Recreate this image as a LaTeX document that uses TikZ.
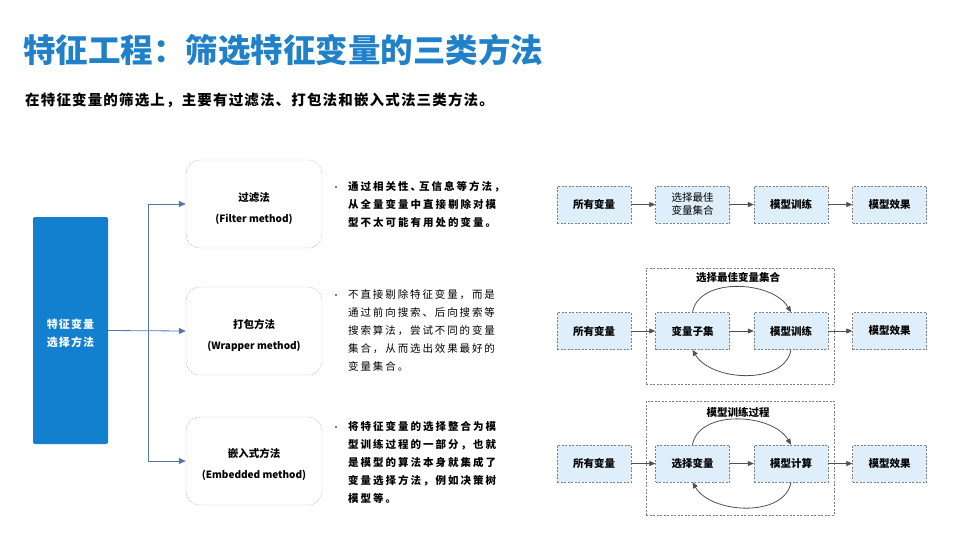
\documentclass[tikz,border=0pt]{standalone}
\usepackage{fontspec}
\setmainfont{Noto Sans CJK SC}
\usetikzlibrary{arrows.meta,positioning}
\definecolor{TitleBlue}{RGB}{32,128,200}
\definecolor{SelBlue}{RGB}{18,128,206}
\definecolor{LinkBlue}{RGB}{82,120,168}
\definecolor{DotGray}{RGB}{150,165,185}
\definecolor{FlowFill}{RGB}{222,238,250}
\definecolor{FlowLine}{RGB}{125,125,125}
\definecolor{ArrGray}{RGB}{80,80,80}
\newcommand{\eng}[1]{{\fontsize{10}{20}\selectfont #1}}

\begin{document}
\begin{tikzpicture}[x=1pt,y=-1pt,
    method/.style={draw=DotGray, dash pattern=on 1pt off 1pt, rounded corners=14pt,
      minimum width=136pt, minimum height=88pt, inner sep=0pt, align=center,
      font=\fontsize{10.5}{21}\selectfont\bfseries},
    flow/.style={draw=FlowLine, fill=FlowFill, dash pattern=on 2pt off 1.5pt,
      minimum width=74pt, minimum height=37pt, inner sep=0pt, align=center,
      font=\fontsize{10.5}{13}\selectfont\bfseries},
    group/.style={draw=FlowLine, dash pattern=on 2pt off 1.5pt, inner sep=0pt},
    note/.style={anchor=north west, inner sep=0pt, align=left,
      font=\fontsize{10.5}{18}\selectfont\addfontfeature{LetterSpace=18}},
    boldnote/.style={note,
      font=\fontsize{10.5}{18}\selectfont\bfseries\addfontfeature{LetterSpace=19}},
    linkarr/.style={draw=LinkBlue, line width=0.8pt, -{Triangle[length=7pt,width=6pt]}},
    flowarr/.style={draw=ArrGray, line width=0.8pt, -{Triangle[length=6pt,width=5pt]}}]
    \useasboundingbox (0,0) rectangle (960,539);
    % Title
    \node[anchor=west, inner sep=0pt, text=TitleBlue, font=\fontsize{32.5}{38}\selectfont\bfseries]
      (title) at (23,50) {特征工程：筛选特征变量的三类方法};
    \node[anchor=west, inner sep=0pt, font=\fontsize{14.5}{18}\selectfont\bfseries\addfontfeature{LetterSpace=8}]
      (lead) at (25,100) {在特征变量的筛选上，主要有过滤法、打包法和嵌入式法三类方法。};
    % Left tree
    \node[fill=SelBlue, rounded corners=2pt, minimum width=75pt, minimum height=227pt,
      inner sep=0pt, align=center, text=white,
      font=\fontsize{11}{18}\selectfont\bfseries\addfontfeature{LetterSpace=10}]
      (select) at (70.5,330.5) {\rule{0pt}{15pt}特征变量\\选择方法};
    \node[method] (filter) at (254,204) {\rule{0pt}{19pt}过滤法\\\eng{(Filter method)}};
    \node[method] (wrapper) at (254,331) {\rule{0pt}{19pt}打包方法\\\eng{(Wrapper method)}};
    \node[method] (embed) at (254,461) {\rule{0pt}{17pt}嵌入式方法\\\eng{(Embedded method)}};
    \coordinate (trunk) at (148,331);
    \draw[linkarr] (select.east) -- (wrapper.west);
    \draw[linkarr] (trunk) |- (filter.west);
    \draw[linkarr] (trunk) |- (embed.west);
    % Notes
    \fill (336,187) circle (0.8);
    \node[boldnote] (filternote) at (348,181)
      {通过相关性、\kern-2pt互信息等方法，\kern-3pt\\从全量变量中直接剔除对模\\型不太可能有用处的变量。};
    \fill (336,295) circle (0.8);
    \node[note] (wrappernote) at (348,289)
      {不直接剔除特征变量，而是\\通过前向搜索、后向搜索等\\搜索算法，尝试不同的变量\\集合，从而选出效果最好的\\变量集合。};
    \fill (336,427) circle (0.8);
    \node[boldnote] (embednote) at (348,421)
      {将特征变量的选择整合为模\\型训练过程的一部分，也就\\是模型的算法本身就集成了\\变量选择方法，例如决策树\\模型等。};
    % Filter flow
    \node[flow] (all1) at (594,204.5) {所有变量};
    \node[flow, font=\fontsize{10.5}{13}\selectfont] (best1) at (692.5,204.5) {选择最佳\\变量集合};
    \node[flow] (train1) at (791,204.5) {模型训练};
    \node[flow] (result1) at (889.5,204.5) {模型效果};
    \draw[flowarr] (all1) -- (best1);
    \draw[flowarr] (best1) -- (train1);
    \draw[flowarr] (train1) -- (result1);
    % Wrapper flow
    \node[group, minimum width=188pt, minimum height=116pt] (box2) at (740,326) {};
    \node[font=\fontsize{10.5}{13}\selectfont\bfseries] (head2) at (738,278) {选择最佳变量集合};
    \node[flow] (all2) at (594,331) {所有变量};
    \node[flow] (sub2) at (692.5,331) {变量子集};
    \node[flow] (train2) at (791,331) {模型训练};
    \node[flow] (result2) at (889.5,331) {模型效果};
    \draw[flowarr] (all2) -- (sub2);
    \draw[flowarr] (sub2) -- (train2);
    \draw[flowarr] (train2) -- (result2);
    \draw[flowarr] (sub2.north) to[out=80,in=120,looseness=0.95] (train2.north);
    \draw[flowarr] (train2.south) to[out=-100,in=-60,looseness=0.95] (sub2.south);
    % Embedded flow
    \node[group, minimum width=188pt, minimum height=114pt] (box3) at (740,458) {};
    \node[font=\fontsize{10.5}{13}\selectfont\bfseries] (head3) at (738,412) {模型训练过程};
    \node[flow] (all3) at (594,463.5) {所有变量};
    \node[flow] (pick3) at (692.5,463.5) {选择变量};
    \node[flow] (calc3) at (791,463.5) {模型计算};
    \node[flow] (result3) at (889.5,463.5) {模型效果};
    \draw[flowarr] (all3) -- (pick3);
    \draw[flowarr] (pick3) -- (calc3);
    \draw[flowarr] (calc3) -- (result3);
    \draw[flowarr] (pick3.north) to[out=80,in=120,looseness=0.95] (calc3.north);
    \draw[flowarr] (calc3.south) to[out=-100,in=-60,looseness=0.95] (pick3.south);
\end{tikzpicture}
\end{document}
